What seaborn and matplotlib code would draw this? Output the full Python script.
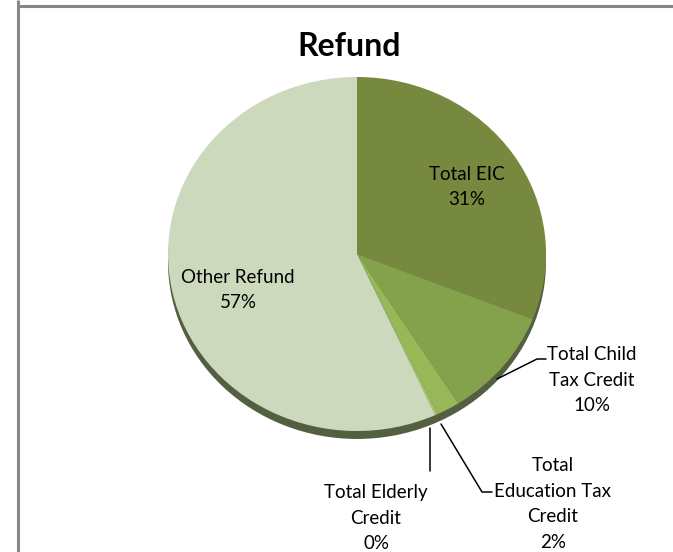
import numpy as np
import matplotlib
matplotlib.use("Agg")
import matplotlib.pyplot as plt
from matplotlib.patches import Ellipse
import seaborn as sns

sns.set_theme(style="white")
plt.rcParams['font.family'] = ['Lato', 'DejaVu Sans']

# Data
categories = ["Total EIC", "Total Child\nTax Credit", "Total\nEducation Tax\nCredit",
              "Total Elderly\nCredit", "Other Refund"]
values = [31.0, 10.0, 2.0, 0.2, 56.8]
pct_labels = ["31%", "10%", "2%", "0%", "57%"]
colors = ["#76893F", "#84A24C", "#98B858", "#A9C46E", "#CDD9BD"]

W, H = 673, 552
fig = plt.figure(figsize=(W / 100, H / 100), dpi=100)

# Pie axes (ellipse footprint)
cx, cy, rx, ry = 357, 254, 189, 177
pax = fig.add_axes([(cx - rx) / W, (H - (cy + ry)) / H, 2 * rx / W, 2 * ry / H])
pax.set_zorder(1)
pax.patch.set_alpha(0)

# shadow rim
shadow = Ellipse((0, -0.045), 2.0, 2.0, facecolor="#545E40", edgecolor="none",
                 zorder=0, clip_on=False)
pax.add_patch(shadow)

wedges, _ = pax.pie(values, colors=colors, startangle=90, counterclock=False,
                    radius=1.0, wedgeprops=dict(linewidth=0))
for w in wedges:
    w.set_clip_on(False)
    w.set_zorder(1)
pax.set_aspect("auto")
pax.set_xlim(-1, 1)
pax.set_ylim(-1, 1)
pax.axis("off")

# Overlay axes in pixel coordinates (y down), drawn on top
ov = fig.add_axes([0, 0, 1, 1])
ov.set_zorder(2)
ov.patch.set_alpha(0)
ov.set_xlim(0, W)
ov.set_ylim(H, 0)
ov.axis("off")

# Frame lines
ov.plot([18, 18], [0, H], color="#878787", lw=2.2, solid_capstyle="butt")
ov.plot([18, W], [6, 6], color="#878787", lw=2.2, solid_capstyle="butt")

ov.text(349, 47, "Refund", ha="center", va="center", fontsize=23,
        fontweight="bold", color="black")

fs = 13.5
ls = 1.6
# Inside labels
ov.text(467, 187, f"{categories[0]}\n{pct_labels[0]}", ha="center", va="center",
        fontsize=fs, color="black", linespacing=ls, zorder=5)
ov.text(238, 290, f"{categories[4]}\n{pct_labels[4]}", ha="center", va="center",
        fontsize=fs, color="black", linespacing=ls, zorder=5)

# Outside labels with leader lines
ov.plot([497, 537, 546], [379, 359, 359], color="black", lw=1.1, zorder=5)
ov.text(592, 380, f"{categories[1]}\n{pct_labels[1]}", ha="center", va="center",
        fontsize=fs, color="black", linespacing=ls, zorder=5)

ov.plot([441, 482, 492], [424, 492, 492], color="black", lw=1.1, zorder=5)
ov.text(553, 504, f"{categories[2]}\n{pct_labels[2]}", ha="center", va="center",
        fontsize=fs, color="black", linespacing=ls, zorder=5)

ov.plot([430, 430], [428, 471], color="black", lw=1.1, zorder=5)
ov.text(376, 518, f"{categories[3]}\n{pct_labels[3]}", ha="center", va="center",
        fontsize=fs, color="black", linespacing=ls, zorder=5)

fig.savefig("out.png", dpi=100)
